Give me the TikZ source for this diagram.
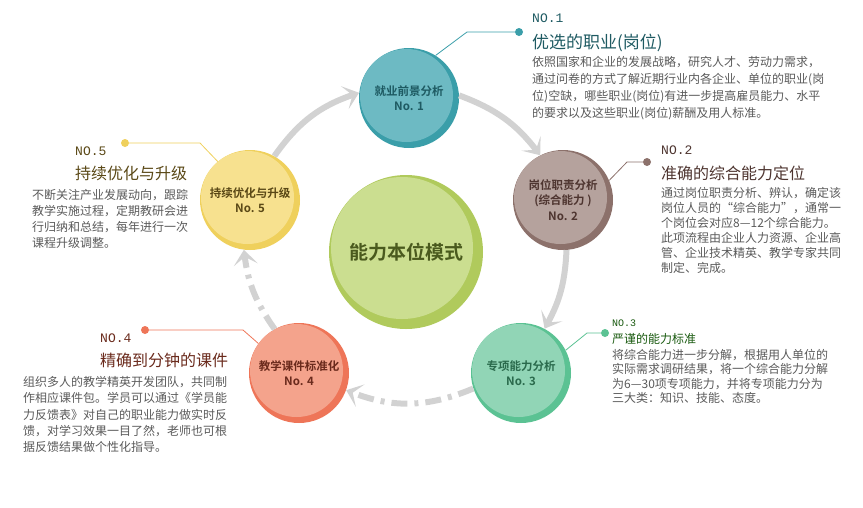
\documentclass[tikz,border=0pt]{standalone}
\usepackage{fontspec}
\setmainfont{Noto Sans CJK SC}[BoldFont={Noto Sans CJK SC Bold}]
\newfontfamily\numfont{Liberation Mono}
\usetikzlibrary{arrows.meta, positioning}
\definecolor{arcgray}{HTML}{D2D2D2}
\definecolor{bodygray}{HTML}{5A5A5A}
\definecolor{tealdark}{HTML}{3A9EA9}
\definecolor{teallight}{HTML}{6DBAC3}
\definecolor{tealtxt}{HTML}{1E5A62}
\definecolor{browndark}{HTML}{8C716B}
\definecolor{brownlight}{HTML}{B5A29D}
\definecolor{browntxt}{HTML}{4E3530}
\definecolor{mintdark}{HTML}{5BC293}
\definecolor{mintlight}{HTML}{91D5B6}
\definecolor{minttxt}{HTML}{2A6A4C}
\definecolor{salmondark}{HTML}{EE7558}
\definecolor{salmonlight}{HTML}{F4A38C}
\definecolor{salmontxt}{HTML}{6A2A1C}
\definecolor{yellowdark}{HTML}{EFD05C}
\definecolor{yellowlight}{HTML}{F7E18F}
\definecolor{yellowtxt}{HTML}{5A4816}
\definecolor{olivedark}{HTML}{B0CA5C}
\definecolor{olivelight}{HTML}{CBDE90}
\definecolor{olivetxt}{HTML}{4A5A1E}
\definecolor{greentxt}{HTML}{1A5A10}

\begin{document}
\begin{tikzpicture}[x=1pt, y=-1pt,
    stage/.style n args={3}{circle, minimum size=100pt, inner sep=0pt, fill=#1, text=#3, align=center,
        font=\bfseries\fontsize{11.5}{15.5}\selectfont,
        path picture={\fill[#2] ([shift={(-2.5pt,2.5pt)}]path picture bounding box.center) circle (46.5pt);}},
    hub/.style={circle, minimum size=154pt, inner sep=0pt, fill=olivedark, text=olivetxt,
        font=\bfseries\fontsize{19}{19}\selectfont,
        path picture={\fill[olivelight] ([shift={(-4pt,4pt)}]path picture bounding box.center) circle (71pt);}},
    flow/.style={draw=arcgray, line width=6pt, -{Stealth[length=15pt, width=24pt, inset=8pt]}},
    flowdash/.style={flow, dash pattern=on 16pt off 7pt on 4pt off 7pt},
    leader/.style={draw=#1, line width=0.8pt},
    dot/.style={circle, fill=#1, inner sep=0pt, minimum size=8pt},
    numlbl/.style={anchor=base west, inner sep=0pt, font=\numfont\fontsize{#1}{#1}\selectfont},
    ttl/.style={anchor=base west, inner sep=0pt, font=\fontsize{#1}{#1}\selectfont},
    % base of a multi-line node = baseline of its last line
    bodytxt/.style={anchor=base west, inner sep=0pt, align=left, text=bodygray, font=\fontsize{12}{#1}\selectfont}
]
\useasboundingbox (0,0) rectangle (863,507);

% Circles
\node[hub] (hub) at (406,252) {能力本位模式};
\node[stage={tealdark}{teallight}{tealtxt}] (c1) at (409,98) {就业前景分析\\No. 1};
\node[stage={browndark}{brownlight}{browntxt}] (c2) at (563,200) {岗位职责分析\\(综合能力 )\\No. 2};
\node[stage={mintdark}{mintlight}{minttxt}] (c3) at (521,373) {专项能力分析\\No. 3};
\node[stage={salmondark}{salmonlight}{salmontxt}] (c4) at (299,373) {教学课件标准化\\No. 4};
\node[stage={yellowdark}{yellowlight}{yellowtxt}] (c5) at (250,200) {持续优化与升级\\No. 5};

% Cycle arrows
\draw[flow] (c5.61) to[bend left=18] (c1.174);
\draw[flow] (c1.3) to[bend left=16] (c2.117);
\draw[flow] (c2.274) to[bend left=13] (c3.62);
\draw[flowdash] (c3.198) to[bend left=22] (c4.340);
\draw[flowdash] (c4.119) to[bend left=14] (c5.263);

% Callout 1
\node[dot=tealdark] (d1) at (519,32) {};
\draw[leader=tealdark] (d1) -- ++(-52,0) -- (c1.58);
\node[numlbl=13, text=tealtxt] (n1) at (532,22) {NO.1};
\node[ttl=17, text=tealtxt] (t1) at (532,48.5) {优选的职业(岗位)};
\node[bodytxt=17] (b1) at (532,117.5) {依照国家和企业的发展战略，研究人才、劳动力需求，\\
通过问卷的方式了解近期行业内各企业、单位的职业(岗\\
位)空缺，哪些职业(岗位)有进一步提高雇员能力、水平\\
的要求以及这些职业(岗位)薪酬及用人标准。};

% Callout 2
\node[dot=browndark] (d2) at (647,162) {};
\draw[leader=browndark] (d2) -- ++(-20,0) -- (c2.23);
\node[numlbl=13, text=browntxt] (n2) at (661,154) {NO.2};
\node[ttl=16, text=browntxt] (t2) at (661,179) {准确的综合能力定位};
\node[bodytxt=15] (b2) at (661,272.5) {通过岗位职责分析、辨认，确定该\\
岗位人员的“综合能力”，通常一\\
个岗位会对应8—12个综合能力。\\
此项流程由企业人力资源、企业高\\
管、企业技术精英、教学专家共同\\
制定、完成。};

% Callout 3
\node[dot=mintdark] (d3) at (605,333) {};
\draw[leader=mintdark] (d3) -- ++(-18,0) -- (c3.27);
\node[numlbl=10, text=greentxt] (n3) at (612,326) {NO.3};
\node[ttl=12, text=greentxt] (t3) at (612,343.5) {严谨的能力标准};
\node[bodytxt=14.4] (b3) at (612,402.7) {将综合能力进一步分解，根据用人单位的\\
实际需求调研结果，将一个综合能力分解\\
为6—30项专项能力，并将专项能力分为\\
三大类：知识、技能、态度。};

% Callout 4
\node[dot=salmondark] (d4) at (145,330) {};
\draw[leader=salmondark] (d4) -- ++(98,0) -- (c4.144);
\node[numlbl=13, text=salmontxt] (n4) at (100,342) {NO.4};
\node[ttl=16, text=salmontxt] (t4) at (100,366) {精确到分钟的课件};
\node[bodytxt=16.25] (b4) at (23,451.5) {组织多人的教学精英开发团队，共同制\\
作相应课件包。学员可以通过《学员能\\
力反馈表》对自己的职业能力做实时反\\
馈，对学习效果一目了然，老师也可根\\
据反馈结果做个性化指导。};

% Callout 5
\node[dot=yellowdark] (d5) at (125,143) {};
\draw[leader=yellowdark] (d5) -- ++(75,0) -- (c5.130);
\node[numlbl=13, text=yellowtxt] (n5) at (75,155) {NO.5};
\node[ttl=16, text=yellowtxt] (t5) at (75,179) {持续优化与升级};
\node[bodytxt=16] (b5) at (32,247.5) {不断关注产业发展动向，跟踪\\
教学实施过程，定期教研会进\\
行归纳和总结，每年进行一次\\
课程升级调整。};
\end{tikzpicture}
\end{document}
